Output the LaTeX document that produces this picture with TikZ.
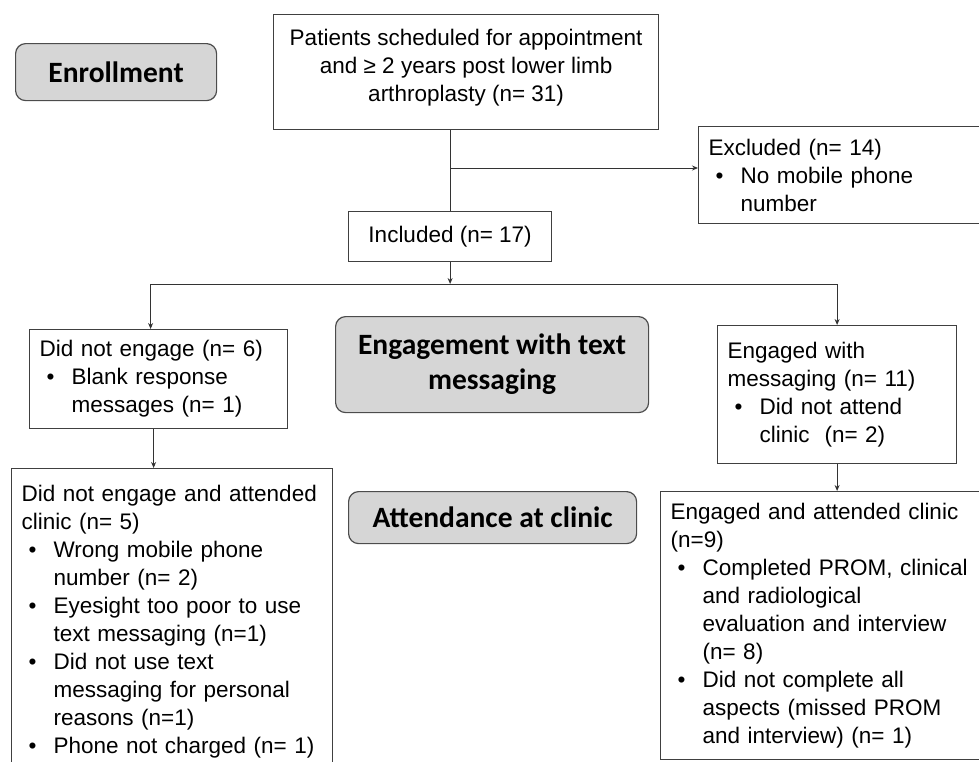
\documentclass[tikz,border=0pt]{standalone}
\usepackage{fontspec}
\setmainfont{Liberation Sans}
\newfontfamily\headfont{Carlito}
\usetikzlibrary{arrows.meta}
\setlength{\parindent}{0pt}
\newcommand{\bitem}[1]{\par\noindent\hangindent=32pt\hangafter=1%
  \hbox to 32pt{\hspace{7pt}\textbullet\hfil}{\let\\\newline#1}\par}

\begin{document}
\begin{tikzpicture}[
  x=1pt, y=-1pt,
  every node/.style={font=\fontsize{22.5}{28}\selectfont, inner sep=0pt},
  box/.style={rectangle, draw=black!75, line width=1.2pt, fill=white, anchor=north west, inner xsep=10pt, align=left},
  phase/.style={rectangle, rounded corners=10pt, draw=black!70, line width=1.2pt, fill=black!16, anchor=north west, align=center, font=\headfont\bfseries\fontsize{29.5}{35}\selectfont},
  link/.style={draw=black!80, line width=0.9pt},
  arr/.style={link, -{Stealth[length=6pt, width=5pt]}}
]
\clip (0,0) rectangle (979,761);

% Phase labels
\node[phase, minimum width=201pt, minimum height=57pt] (enrol) at (15,43) {Enrollment};
\node[phase, minimum width=313pt, minimum height=96pt] (engage) at (335,316) {Engagement with text\\messaging};
\node[phase, minimum width=288pt, minimum height=52pt] (attend) at (348,491) {Attendance at clinic};

% Flow boxes
\node[box, align=center, minimum width=385pt, minimum height=115pt, text depth=14pt] (pat) at (273,14) {Patients scheduled for appointment\\and ≥ 2 years post lower limb\\arthroplasty (n= 31)};
\node[box, align=center, minimum width=203pt, minimum height=50pt] (inc) at (348,211) {Included (n= 17)};
\node[box, text width=272pt, minimum height=97pt] (exc) at (698,126) {Excluded (n= 14)\bitem{No mobile phone\\number}};
\node[box, text width=238pt, minimum height=99pt] (dne) at (29,329) {Did not engage (n= 6)\bitem{Blank response\\messages (n= 1)}};
\node[box, text width=219pt, minimum height=138pt] (eng) at (717,325) {Engaged with\\messaging (n= 11)\bitem{Did not attend\\clinic~ (n= 2)}};
\node[box, text width=301pt, minimum height=307pt] (dna) at (11,468) {Did not engage and attended\\clinic (n= 5)\bitem{Wrong mobile phone\\number (n= 2)}\bitem{Eyesight too poor to use\\text messaging (n=1)}\bitem{Did not use text\\messaging for personal\\reasons (n=1)}\bitem{Phone not charged (n= 1)}};
\node[box, text width=310pt, minimum height=268pt] (ea) at (660,491) {Engaged and attended clinic\\(n=9)\bitem{Completed PROM, clinical\\and radiological\\evaluation and interview\\(n= 8)}\bitem{Did not complete all\\aspects (missed PROM\\and interview) (n= 1)}};

% Connectors
\coordinate (fork) at (inc.north |- 0,168);
\coordinate (split) at (inc.south |- 0,284);
\coordinate (dnein) at ([xshift=-8pt]dne.north);
\coordinate (dneout) at ([xshift=-5pt]dne.south);

\draw[link] (pat.south -| inc.north) -- (inc.north);
\draw[arr] (fork) -- (fork -| exc.west);
\draw[arr] (inc.south) -- (split);
\draw[link] (dnein |- split) -- (eng.north |- split);
\draw[arr] (dnein |- split) -- (dnein);
\draw[arr] (eng.north |- split) -- (eng.north);
\draw[arr] (dneout) -- (dneout |- dna.north);
\draw[arr] (eng.south) -- (eng.south |- ea.north);
\end{tikzpicture}
\end{document}
